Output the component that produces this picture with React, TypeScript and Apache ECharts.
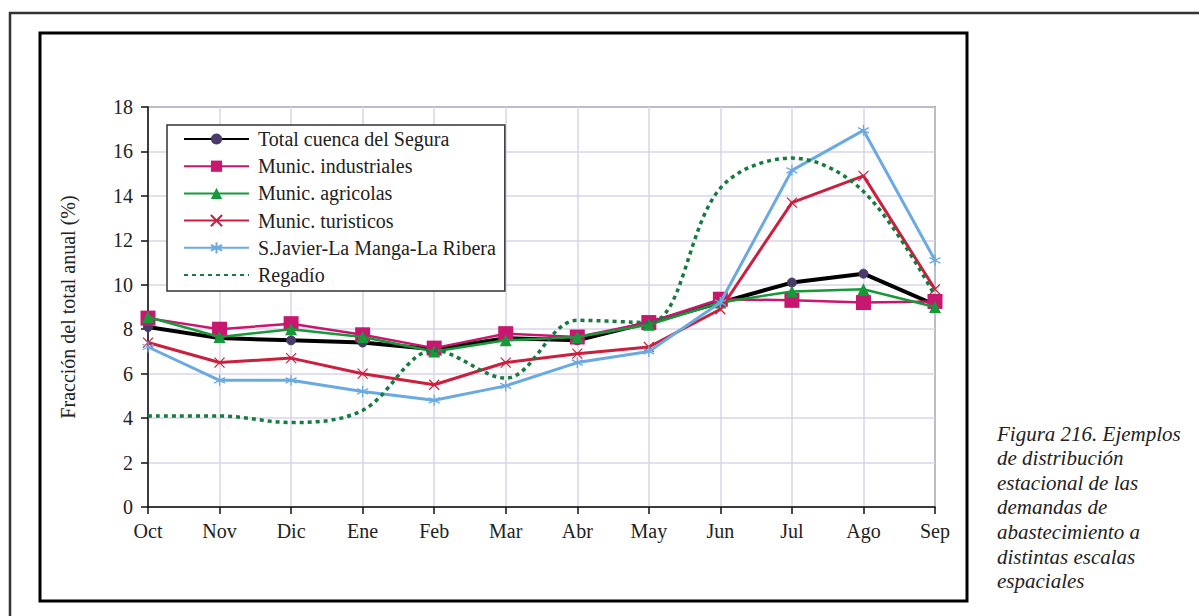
import React, { useEffect, useRef } from "react";
import * as echarts from "echarts";

const months = ["Oct", "Nov", "Dic", "Ene", "Feb", "Mar", "Abr", "May", "Jun", "Jul", "Ago", "Sep"];
const totalCuenca = [8.1, 7.6, 7.5, 7.4, 7.1, 7.6, 7.5, 8.3, 9.2, 10.1, 10.5, 9.1];
const industriales = [8.5, 8.0, 8.25, 7.75, 7.15, 7.8, 7.65, 8.3, 9.35, 9.3, 9.2, 9.25];
const agricolas = [8.55, 7.65, 8.0, 7.65, 7.0, 7.5, 7.65, 8.2, 9.2, 9.7, 9.8, 9.0];
const turisticos = [7.4, 6.5, 6.7, 6.0, 5.5, 6.5, 6.9, 7.2, 8.9, 13.7, 14.9, 9.8];
const sanJavier = [7.2, 5.7, 5.7, 5.2, 4.8, 5.45, 6.5, 7.0, 9.2, 15.15, 16.95, 11.1];
const regadio = [4.1, 4.1, 3.8, 4.35, 7.05, 5.8, 8.4, 8.3, 14.35, 15.7, 14.2, 9.5];
const yTicks = { min: 0, max: 18, interval: 2 };
const captionLines = [
  "Figura 216. Ejemplos",
  "de distribución",
  "estacional de las",
  "demandas de",
  "abastecimiento a",
  "distintas escalas",
  "espaciales",
];

const FONT = "Liberation Serif";
const X_SYMBOL = "path://M0,0L10,10M10,0L0,10";
const AST_SYMBOL = "path://M5,0L5,10M0.7,2.5L9.3,7.5M0.7,7.5L9.3,2.5";

export default function App() {
  const ref = useRef<HTMLDivElement>(null);
  useEffect(() => {
    if (!ref.current) return;
    const chart = echarts.init(ref.current, undefined, { renderer: "svg" });
    const option: any = {
      animation: false,
      backgroundColor: "#ffffff",
      textStyle: { fontFamily: FONT },
      grid: {
        left: 148,
        right: 264,
        top: 107,
        bottom: 109,
        show: true,
        borderColor: "#444",
        borderWidth: 1.5,
        backgroundColor: "transparent",
      },
      legend: {
        orient: "vertical",
        left: 167,
        top: 125,
        padding: [4, 9, 6, 16],
        itemGap: 7.2,
        itemWidth: 65,
        itemHeight: 14,
        borderColor: "#333",
        borderWidth: 1.5,
        backgroundColor: "#fff",
        textStyle: { fontFamily: FONT, fontSize: 20, color: "#222", padding: [0, 0, 0, 4] },
        data: [
          "Total cuenca del Segura",
          "Munic. industriales",
          "Munic. agricolas",
          "Munic. turisticos",
          "S.Javier-La Manga-La Ribera",
          { name: "Regadío", itemStyle: { opacity: 0 } },
        ],
      },
      xAxis: {
        type: "category",
        data: months,
        boundaryGap: false,
        axisLine: { lineStyle: { color: "#111", width: 1.5 } },
        axisTick: { show: true, length: 7, lineStyle: { color: "#111", width: 1.5 } },
        axisLabel: { fontFamily: FONT, fontSize: 20, color: "#222", margin: 14 },
        splitLine: { show: true, lineStyle: { color: "#d8d4e8", width: 1.5 } },
      },
      yAxis: {
        type: "value",
        min: yTicks.min,
        max: yTicks.max,
        interval: yTicks.interval,
        name: "Fracción del total anual (%)",
        nameLocation: "middle",
        nameGap: 70,
        nameTextStyle: { fontFamily: FONT, fontSize: 20, color: "#222" },
        axisLine: { show: true, lineStyle: { color: "#111", width: 1.5 } },
        axisTick: { show: true, length: 7, lineStyle: { color: "#111", width: 1.5 } },
        axisLabel: { fontFamily: FONT, fontSize: 20, color: "#222", margin: 15 },
        splitLine: { show: true, lineStyle: { color: "#d8d4e8", width: 1.5 } },
      },
      series: [
        {
          name: "Total cuenca del Segura",
          type: "line",
          data: totalCuenca,
          symbol: "circle",
          symbolSize: 9,
          lineStyle: { color: "#000", width: 4 },
          itemStyle: { color: "#4b3b6b", borderColor: "#4b3b6b" },
          z: 3,
        },
        {
          name: "Munic. industriales",
          type: "line",
          data: industriales,
          symbol: "rect",
          symbolSize: 15,
          lineStyle: { color: "#c8176f", width: 2.5 },
          itemStyle: { color: "#c8176f" },
          z: 4,
        },
        {
          name: "Munic. agricolas",
          type: "line",
          data: agricolas,
          symbol: "triangle",
          symbolSize: 12,
          lineStyle: { color: "#17993a", width: 2.5 },
          itemStyle: { color: "#17993a" },
          z: 5,
        },
        {
          name: "Munic. turisticos",
          type: "line",
          data: turisticos,
          symbol: X_SYMBOL,
          symbolSize: 10,
          lineStyle: { color: "#cc1f3d", width: 3 },
          itemStyle: { color: "#cc1f3d", borderColor: "#cc1f3d", borderWidth: 1.2 },
          z: 6,
        },
        {
          name: "S.Javier-La Manga-La Ribera",
          type: "line",
          data: sanJavier,
          symbol: AST_SYMBOL,
          symbolSize: 11,
          lineStyle: { color: "#6aaae2", width: 3 },
          itemStyle: { color: "#6aaae2", borderColor: "#6aaae2", borderWidth: 1.3 },
          z: 7,
        },
        {
          name: "Regadío",
          type: "line",
          data: regadio,
          symbol: "none",
          smooth: 0.35,
          lineStyle: { color: "#177a3f", width: 3.5, type: [4, 4] },
          itemStyle: { color: "#177a3f" },
          z: 8,
        },
      ],
      graphic: [
        {
          type: "polyline",
          shape: { points: [[10, 616], [10, 13], [1199, 13]] },
          style: { stroke: "#333", lineWidth: 2.5, fill: "none" },
          silent: true,
        },
        {
          type: "rect",
          shape: { x: 40, y: 33, width: 927, height: 568 },
          style: { stroke: "#000", lineWidth: 3, fill: "none" },
          silent: true,
        },
        ...captionLines.map((t, i) => ({
          type: "text",
          left: 997,
          top: 423 + i * 24.6,
          style: {
            text: t,
            fontFamily: FONT,
            fontStyle: "italic",
            fontSize: 21,
            fill: "#222",
          },
          silent: true,
        })),
      ],
    };
    chart.setOption(option);
    return () => chart.dispose();
  }, []);
  return (
    <div
      ref={ref}
      style={{ position: "fixed", left: 0, top: 0, width: 1199, height: 616, background: "#fff" }}
    />
  );
}
